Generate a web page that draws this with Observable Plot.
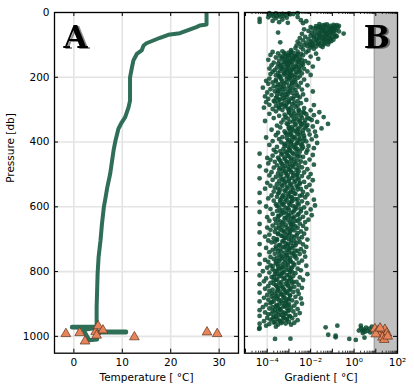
<!DOCTYPE html>
<html>
<head>
<meta charset="utf-8">
<script src="https://cdn.jsdelivr.net/npm/d3@7"></script>
<script src="https://cdn.jsdelivr.net/npm/@observablehq/plot@0.6"></script>
<style>
  body { margin: 0; background: #fff; }
  #wrap { position: relative; width: 414px; height: 391px; overflow: hidden; background:#fff; }
  #wrap svg { position: absolute; top: 0; overflow: visible; }
</style>
</head>
<body>
<div id="wrap"></div>
<script>
// ---------- data ----------
// Temperature profile (°C) vs pressure (db)
const profileT = [27.4, 27.4, 26.0, 25.3, 21.9, 19.5, 17.8, 15.0, 14.4, 14.0, 13.0, 12.3, 12.0, 11.6, 11.6, 11.3, 10.6, 9.9, 9.2, 8.6, 8.2, 7.5, 6.9, 6.5, 6.2, 5.8, 5.5, 5.1, 4.9, 4.8, 4.7, 4.7, 4.8, -0.4, -0.4, 4.6, 2.0, 3.2, 4.8, 4.8, 10.8, 10.8, 4.8];
const profileP = [0, 37, 40, 45, 64, 69, 78, 95, 102, 117, 128, 148, 169, 200, 272, 292, 323, 339, 359, 395, 426, 498, 540, 575, 600, 653, 704, 756, 807, 859, 910, 962, 970, 970, 973, 974, 980, 1012, 1010, 985, 985, 988, 988];

// Station (triangle) values
const stationT = [-1.65, 1.2, 2.3, 4.5, 4.7, 5.0, 6.0, 12.5, 27.5, 29.6];
const stationP = [992, 989, 1015, 986, 997, 968, 981, 1002, 987, 992];
const stationGradExp = [0.96, 1.11, 1.27, 1.42, 1.51, 1.31, 1.39, 1.0, 1.2, 1.55];
const stationGradP = [977, 982, 988, 979, 990, 1003, 1010, 993, 975, 1000];

// Gradient scatter: [pressure (db), log10 gradient]
const gradientPoints = [
[2,-3.9],[3,-3.6],[4,-3.3],[3,-3.0],[5,-2.8],[2,-2.6],[6,-3.75],[7,-3.45],[8,-3.15],[9,-3.85],[10,-3.55],[6,-2.95],[11,-3.25],[12,-3.7],[13,-3.4],[14,-2.6],[15,-3.95],[16,-3.1],[18,-3.6],[20,-4.35],[22,-3.3],[24,-2.45],[26,-3.75],[27,-2.2],[29,-4.35],[30,-3.45],[32,-3.05],[33,-2.35],
[36,-1.6],[37,-1.25],[38,-0.95],[39,-0.8],[40,-1.45],[41,-1.1],[42,-1.75],[43,-0.9],[44,-1.3],[45,-2.0],[46,-1.55],[47,-0.75],[48,-1.15],[49,-1.9],[50,-1.4],[51,-1.0],[52,-2.3],[53,-1.65],[54,-1.2],[55,-0.85],[56,-1.5],[57,-2.1],[58,-1.35],[59,-0.95],[60,-1.8],[61,-1.05],[62,-3.5],[63,-1.6],[64,-1.25],[65,-0.48],[66,-2.4],[67,-1.45],[68,-0.9],[69,-1.7],[70,-1.15],[71,-2.0],[72,-1.35],[73,-0.8],[74,-1.55],[75,-2.25],[76,-1.0],[77,-1.85],[78,-1.3],[79,-2.5],[80,-1.6],[81,-1.1],[82,-2.1],[83,-1.4],[84,-0.95],[85,-1.75],[86,-2.35],[87,-1.25],[88,-1.95],[89,-1.5],[90,-2.6],[91,-1.15],[92,-3.4],[93,-1.8],[94,-2.2],[95,-1.35],[96,-2.5],[97,-1.65],[98,-2.05],[99,-1.4],[100,-2.3],[101,-1.9],[102,-2.65],[103,-1.55],[104,-2.15],[105,-1.75],[107,-2.45],[108,-2.0],[110,-2.7],[112,-1.85],[114,-2.35],[116,-2.9],[118,-2.1],
[38.5,-1.35],[41.5,-0.7],[43.5,-1.6],[46.5,-1.0],[48.5,-1.75],[50.5,-0.9],[53.5,-1.45],[55.5,-1.1],[58.5,-0.7],[60.5,-1.3],[62.5,-1.95],[64.5,-1.05],[67.5,-1.6],[69.5,-1.25],[72.5,-1.85],[74.5,-0.85],[77.5,-1.45],[79.5,-1.15],[82.5,-1.7],[85.5,-1.35],[88.5,-1.05],[91.5,-2.0],[94.5,-1.6],[98.5,-1.2],[102.5,-1.95],[106.5,-1.45],
[120,-3.3],[121,-2.6],[122,-3.75],[123,-2.2],[124,-3.0],[125,-2.8],[126,-3.5],[127,-1.75],[128,-2.45],[129,-3.2],[130,-2.9],[131,-3.85],[132,-2.35],[133,-3.05],[134,-2.65],[135,-3.4],[136,-2.0],[137,-2.75],[138,-3.15],[139,-3.6],[140,-2.5],[141,-2.95],[142,-3.3],[143,-1.65],[144,-2.8],[145,-3.1],[146,-3.95],[147,-2.4],[148,-2.7],[149,-3.45],[150,-2.25],[151,-3.0],[152,-2.55],[153,-3.25],[154,-2.85],[155,-3.7],[156,-2.1],[157,-3.15],[158,-2.6],[159,-3.5],[160,-2.9],[161,-2.35],[162,-3.35],[163,-3.8],[164,-2.7],[165,-3.05],[166,-2.45],[167,-1.9],[168,-3.2],[169,-2.8],[170,-3.55],[171,-2.55],[172,-3.0],[173,-3.9],[174,-2.3],[175,-3.3],[176,-2.75],[177,-3.1],[178,-3.65],[179,-2.5],[180,-2.95],[181,-3.4],[182,-2.15],[183,-3.75],[184,-2.65],[185,-3.2],[186,-2.9],[187,-3.5],[188,-2.4],[189,-3.0],[190,-3.85],[191,-2.7],[192,-3.25],[193,-2.0],[194,-3.6],[195,-2.85],[196,-3.1],[197,-2.5],[198,-3.45],[199,-2.95],
[121.5,-2.9],[124.5,-3.2],[128.5,-2.6],[131.5,-3.0],[135.5,-2.7],[138.5,-3.3],[142.5,-2.85],[146.5,-2.55],[150.5,-3.15],[153.5,-2.95],[157.5,-2.4],[161.5,-3.05],[164.5,-3.4],[168.5,-2.65],[172.5,-3.35],[175.5,-2.85],[179.5,-3.1],[183.5,-2.55],[187.5,-3.2],[191.5,-2.95],[195.5,-3.45],[199.5,-2.75],
[201,-3.4],[202,-2.6],[204,-3.9],[205,-3.1],[207,-2.3],[208,-3.6],[210,-2.9],[211,-4.05],[213,-3.3],[214,-2.7],[216,-3.75],[217,-2.45],[219,-3.2],[220,-3.95],[222,-2.85],[223,-3.5],[225,-2.15],[226,-3.0],[228,-3.7],[229,-2.55],[231,-3.35],[232,-4.2],[234,-2.8],[235,-3.15],[237,-3.85],[238,-2.4],[240,-3.45],[241,-2.95],[243,-3.65],[244,-1.9],[246,-3.25],[247,-4.0],[249,-2.65],[250,-3.55],[252,-3.05],[253,-2.35],[255,-3.8],[256,-3.3],[258,-2.75],[259,-4.1],[261,-3.1],[262,-2.5],[264,-3.6],[265,-2.9],[267,-3.95],[268,-3.4],[270,-2.2],[271,-3.2],[273,-3.7],[274,-2.6],[276,-3.0],[277,-4.05],[279,-3.5],[280,-2.45],[282,-3.3],[283,-2.85],[285,-3.9],[286,-1.85],[288,-3.15],[289,-3.6],[291,-2.7],[292,-3.45],[294,-4.15],[295,-2.3],[297,-3.05],[298,-3.75],[300,-2.55],
[203.5,-3.0],[206.5,-3.35],[209.5,-2.75],[212.5,-3.6],[215.5,-3.1],[218.5,-2.85],[221.5,-3.4],[224.5,-2.65],[227.5,-3.25],[230.5,-3.55],[233.5,-2.95],[236.5,-3.3],[239.5,-2.7],[242.5,-3.5],[245.5,-3.05],[248.5,-2.85],[251.5,-3.4],[254.5,-3.15],[257.5,-2.6],[260.5,-3.55],[263.5,-3.25],[266.5,-2.8],[269.5,-3.45],[272.5,-3.0],[275.5,-3.65],[278.5,-2.75],[281.5,-3.1],[284.5,-3.35],[287.5,-2.6],[290.5,-3.2],[293.5,-2.9],[296.5,-3.45],[299.5,-3.0],
[301,-3.3],[302,-2.0],[304,-2.8],[305,-3.6],[307,-2.35],[308,-1.6],[310,-3.0],[311,-2.55],[313,-3.9],[314,-2.2],[316,-2.9],[317,-1.85],[319,-3.45],[320,-2.65],[322,-3.15],[323,-1.4],[325,-2.4],[326,-3.7],[328,-2.05],[329,-2.75],[331,-3.25],[332,-1.95],[334,-2.5],[335,-4.1],[337,-2.95],[338,-1.7],[340,-3.35],[341,-2.3],[343,-2.7],[344,-1.2],[346,-3.05],[347,-2.15],[349,-3.55],[350,-2.45],[352,-1.9],[353,-2.85],[355,-3.4],[356,-2.25],[358,-1.5],[359,-3.0],[361,-2.6],[362,-3.8],[364,-2.1],[365,-2.75],[367,-3.2],[368,-1.8],[370,-2.5],[371,-3.5],[373,-2.35],[374,-2.9],
[303.5,-2.55],[306.5,-3.0],[309.5,-2.3],[312.5,-2.75],[315.5,-3.2],[318.5,-2.45],[321.5,-2.85],[324.5,-2.15],[327.5,-3.05],[330.5,-2.6],[333.5,-2.25],[336.5,-2.8],[339.5,-2.5],[342.5,-3.1],[345.5,-2.4],[348.5,-2.7],[351.5,-2.2],[354.5,-3.0],[357.5,-2.55],[360.5,-2.85],[363.5,-2.35],[366.5,-2.95],[369.5,-2.65],[372.5,-3.15],
[376,-3.1],[377,-2.05],[379,-3.6],[380,-2.5],[382,-1.75],[383,-2.85],[385,-3.3],[386,-4.05],[388,-2.3],[389,-2.7],[391,-3.45],[392,-1.95],[394,-3.0],[395,-2.55],[397,-3.75],[398,-2.2],[400,-2.9],[401,-3.35],[403,-1.7],[404,-2.65],[406,-3.2],[407,-2.4],[409,-3.9],[410,-2.8],[412,-2.1],[413,-3.05],[415,-3.55],[416,-2.35],[418,-2.75],[419,-1.85],[421,-3.25],[422,-2.6],[424,-3.7],[425,-2.15],[427,-2.95],[428,-3.4],
[375.5,-2.6],[378.5,-2.95],[381.5,-2.3],[384.5,-2.75],[387.5,-3.1],[390.5,-2.5],[393.5,-2.85],[396.5,-2.35],[399.5,-3.05],[402.5,-2.6],[405.5,-2.9],[408.5,-2.45],[411.5,-3.2],[414.5,-2.7],[417.5,-2.95],[420.5,-2.4],[423.5,-3.0],[426.5,-2.65],[429.5,-3.15],
[430,-2.5],[431,-3.6],[433,-2.2],[434,-3.1],[436,-4.35],[437,-2.8],[439,-3.35],[440,-1.9],[442,-3.75],[443,-2.6],[445,-3.0],[446,-2.35],[448,-3.5],[449,-4.0],[451,-2.75],[452,-3.2],[454,-2.05],[455,-3.85],[457,-2.9],[458,-3.4],[460,-2.45],[461,-3.65],[463,-3.1],[464,-2.25],[466,-3.95],[467,-2.7],[469,-3.3],[470,-1.85],[472,-3.55],[473,-2.85],[475,-4.35],[476,-3.05],[478,-2.4],[479,-3.7],[481,-2.6],[482,-3.25],[484,-2.15],[485,-3.45],[487,-2.95],[488,-4.05],[490,-2.55],[491,-3.15],[493,-3.8],[494,-2.3],[496,-2.8],[497,-3.5],[499,-2.0],
[432.5,-2.85],[435.5,-3.3],[438.5,-2.65],[441.5,-3.05],[444.5,-2.5],[447.5,-3.2],[450.5,-2.9],[453.5,-3.45],[456.5,-2.6],[459.5,-3.1],[462.5,-2.75],[465.5,-3.35],[468.5,-2.95],[471.5,-2.55],[474.5,-3.2],[477.5,-2.8],[480.5,-3.4],[483.5,-3.0],[486.5,-2.65],[489.5,-3.3],[492.5,-2.9],[495.5,-3.15],[498.5,-2.6],
[500,-3.35],[502,-2.65],[503,-3.9],[505,-2.4],[506,-3.1],[508,-3.6],[509,-2.1],[511,-2.85],[512,-4.35],[514,-3.25],[515,-2.55],[517,-3.75],[518,-1.9],[520,-3.0],[521,-3.45],[523,-2.3],[524,-2.75],[526,-4.0],[527,-3.2],[529,-2.5],[530,-3.55],[532,-2.05],[533,-2.9],[535,-3.85],[536,-3.3],[538,-2.6],[539,-2.2],[541,-3.65],[542,-3.05],[544,-4.1],[545,-2.45],[547,-3.4],[548,-2.8],[550,-1.95],[551,-3.15],[553,-3.7],[554,-2.35],[556,-2.95],[557,-4.35],[559,-3.5],[560,-2.7],[562,-2.15],[563,-3.25],[565,-3.8],[566,-2.5],[568,-3.0],[569,-3.55],[571,-2.25],[572,-2.85],[574,-3.95],[575,-3.35],[577,-2.6],[578,-1.85],
[501.5,-3.05],[504.5,-2.8],[507.5,-3.4],[510.5,-2.6],[513.5,-3.0],[516.5,-3.3],[519.5,-2.7],[522.5,-3.15],[525.5,-2.5],[528.5,-2.95],[531.5,-3.35],[534.5,-2.65],[537.5,-3.1],[540.5,-2.85],[543.5,-3.5],[546.5,-2.6],[549.5,-3.2],[552.5,-2.9],[555.5,-3.45],[558.5,-2.75],[561.5,-3.05],[564.5,-2.4],[567.5,-3.3],[570.5,-2.9],[573.5,-3.15],[576.5,-2.7],[579.5,-3.4],
[580,-3.1],[581,-3.7],[583,-2.4],[584,-2.9],[586,-4.35],[587,-3.4],[589,-2.15],[590,-3.0],[592,-3.6],[593,-2.55],[595,-3.25],[596,-1.8],[598,-2.8],[599,-4.05],[601,-3.45],[602,-2.3],[604,-3.05],[605,-2.65],[607,-3.85],[608,-2.0],[610,-3.3],[611,-2.75],[613,-3.55],[614,-2.45],[616,-4.35],[617,-3.15],[619,-2.2],[620,-2.9],[622,-3.75],[623,-3.35],[625,-2.6],[626,-1.95],[628,-3.0],[629,-3.5],[631,-2.35],[632,-4.0],[634,-2.8],[635,-3.2],[637,-2.5],[638,-3.65],[640,-2.1],[641,-3.05],[643,-3.9],[644,-2.7],[646,-3.4],[647,-2.25],[649,-2.95],
[582.5,-2.85],[585.5,-3.2],[588.5,-2.6],[591.5,-3.3],[594.5,-2.95],[597.5,-3.55],[600.5,-2.7],[603.5,-3.15],[606.5,-2.45],[609.5,-3.0],[612.5,-3.4],[615.5,-2.8],[618.5,-3.25],[621.5,-2.55],[624.5,-3.05],[627.5,-3.45],[630.5,-2.75],[633.5,-3.15],[636.5,-2.9],[639.5,-3.5],[642.5,-2.6],[645.5,-3.25],[648.5,-2.85],
[650,-3.6],[652,-2.5],[653,-4.35],[655,-3.15],[656,-2.8],[658,-3.75],[659,-2.35],[661,-3.3],[662,-2.9],[664,-4.0],[665,-2.6],[667,-3.45],[668,-2.2],[670,-3.05],[671,-3.85],[673,-2.75],[674,-3.25],[676,-2.45],[677,-3.65],[679,-4.35],[680,-2.95],[682,-3.5],[683,-2.3],[685,-3.1],[686,-3.9],[688,-2.65],[689,-3.35],[691,-2.85],[692,-4.1],[694,-2.4],[695,-3.2],[697,-3.7],[698,-2.55],[700,-3.0],[701,-2.15],[703,-3.55],[704,-3.95],[706,-2.75],[707,-3.3],[709,-2.5],[710,-3.8],[712,-2.9],[713,-3.15],[715,-4.35],[716,-2.35],[718,-3.45],[719,-2.7],[721,-3.05],[722,-3.6],[724,-2.2],[725,-3.25],[727,-4.05],[728,-2.85],[730,-3.4],[731,-2.45],[733,-3.75],[734,-3.0],[736,-2.6],[737,-3.5],[739,-2.3],[740,-3.9],[742,-3.2],[743,-2.8],[745,-3.65],[746,-2.5],[748,-4.35],[749,-3.1],[751,-2.7],[752,-3.35],[754,-2.25],[755,-3.85],[757,-2.95],[758,-3.55],
[651.5,-3.3],[654.5,-2.9],[657.5,-3.45],[660.5,-2.7],[663.5,-3.1],[666.5,-3.6],[669.5,-2.85],[672.5,-3.35],[675.5,-2.95],[678.5,-3.2],[681.5,-2.6],[684.5,-3.5],[687.5,-3.0],[690.5,-3.3],[693.5,-2.75],[696.5,-3.15],[699.5,-3.55],[702.5,-2.9],[705.5,-3.25],[708.5,-3.65],[711.5,-2.65],[714.5,-3.05],[717.5,-3.4],[720.5,-2.8],[723.5,-3.2],[726.5,-2.95],[729.5,-3.6],[732.5,-3.1],[735.5,-2.7],[738.5,-3.35],[741.5,-3.0],[744.5,-2.85],[747.5,-3.45],[750.5,-3.15],[753.5,-2.75],[756.5,-3.3],[759.5,-3.05],
[760,-2.65],[761,-3.7],[763,-3.2],[764,-4.1],[766,-2.4],[767,-3.45],[769,-2.9],[770,-3.95],[772,-3.05],[773,-2.55],[775,-3.6],[776,-4.35],[778,-3.3],[779,-2.75],[781,-3.85],[782,-2.2],[784,-3.15],[785,-3.5],[787,-2.85],[788,-4.0],[790,-3.35],[791,-2.6],[793,-3.75],[794,-3.0],[796,-2.45],[797,-3.55],[799,-4.2],[800,-2.95],[802,-3.25],[803,-3.9],[805,-2.7],[806,-3.4],[808,-2.15],[809,-3.65],[811,-3.1],[812,-4.35],[814,-2.8],[815,-3.45],[817,-3.8],[818,-2.5],[820,-3.2],[821,-4.05],[823,-2.9],[824,-3.55],[826,-2.35],[827,-3.7],[829,-3.0],[830,-4.15],[832,-2.65],[833,-3.35],[835,-3.85],[836,-2.85],[838,-3.15],[839,-4.35],[841,-2.55],[842,-3.6],[844,-3.05],[845,-3.95],[847,-2.75],[848,-3.3],[850,-2.4],[851,-3.5],[853,-4.1],[854,-2.95],[856,-3.75],[857,-3.2],[859,-2.6],
[762.5,-3.4],[765.5,-2.95],[768.5,-3.6],[771.5,-3.2],[774.5,-2.8],[777.5,-3.5],[780.5,-3.05],[783.5,-3.75],[786.5,-3.3],[789.5,-2.9],[792.5,-3.45],[795.5,-3.15],[798.5,-3.65],[801.5,-2.85],[804.5,-3.3],[807.5,-3.55],[810.5,-3.0],[813.5,-3.35],[816.5,-3.7],[819.5,-2.95],[822.5,-3.25],[825.5,-3.6],[828.5,-3.1],[831.5,-2.8],[834.5,-3.45],[837.5,-3.7],[840.5,-3.05],[843.5,-3.35],[846.5,-3.55],[849.5,-2.9],[852.5,-3.25],[855.5,-3.5],[858.5,-3.0],
[860,-3.9],[862,-3.4],[863,-2.8],[865,-4.35],[866,-3.1],[868,-3.65],[869,-2.55],[871,-3.3],[872,-4.0],[874,-2.95],[875,-3.5],[877,-3.8],[878,-2.7],[880,-3.2],[881,-4.15],[883,-2.45],[884,-3.55],[886,-3.0],[887,-3.95],[889,-2.85],[890,-3.35],[892,-4.35],[893,-3.7],[895,-2.65],[896,-3.15],[898,-3.85],[899,-2.4],[901,-3.45],[902,-4.05],[904,-3.05],[905,-2.75],[907,-3.6],[908,-3.25],[910,-4.2],[911,-2.9],[913,-3.5],[914,-3.9],[916,-2.6],[917,-3.4],[919,-4.35],[920,-3.0],[922,-3.75],[923,-2.8],[925,-3.3],[926,-4.1],[928,-2.5],[929,-3.6],[931,-3.15],[932,-3.95],[934,-2.7],[935,-3.45],[937,-4.35],[938,-2.95],[940,-3.7],[941,-3.25],[943,-4.0],[944,-2.85],[946,-3.55],[947,-3.1],[949,-3.85],[950,-2.6],[952,-3.4],[953,-4.15],[955,-3.0],[956,-3.65],[958,-2.75],[959,-3.35],[961,-4.35],[962,-3.9],[964,-2.9],
[861.5,-3.55],[864.5,-3.15],[867.5,-3.8],[870.5,-3.35],[873.5,-2.95],[876.5,-3.6],[879.5,-3.25],[882.5,-3.7],[885.5,-3.05],[888.5,-3.45],[891.5,-3.15],[894.5,-3.8],[897.5,-3.3],[900.5,-3.0],[903.5,-3.55],[906.5,-3.2],[909.5,-3.75],[912.5,-3.1],[915.5,-3.4],[918.5,-3.65],[921.5,-3.05],[924.5,-3.5],[927.5,-3.2],[930.5,-3.8],[933.5,-3.35],[936.5,-3.0],[939.5,-3.6],[942.5,-3.25],[945.5,-3.75],[948.5,-3.1],[951.5,-3.45],[954.5,-3.3],[957.5,-3.7],[960.5,-3.15],[963.5,-3.5],
[967,-4.05],[970,-3.6],[974,-4.35],[977,-4.37],[972,-1.31],[967,-0.77],[995,-1.19],[1003,-0.85],[998,-0.85],[1008,-3.64],[1007,-2.93],[1008,-0.22],[1011,0.08],[982,0.22],[967,0.31],[982,0.38],[979,0.45],[973,0.55],[986,0.5],[976,0.7],[970,0.82],[983,0.62],[990,0.4],[975,0.32],[988,0.75],[1004,0.48]
];

// Axis ticks
const tempTicks = [0, 10, 20, 30];
const pressureTicks = [0, 200, 400, 600, 800, 1000];
const gradTicks = [1e-4, 1e-2, 1, 100];
const gradTickLabels = ["10\u207B\u2074", "10\u207B\u00B2", "10\u2070", "10\u00B2"];
const shadeRange = [8.5, 100];

// ---------- build ----------
const profile = profileT.map((t, i) => ({t, p: profileP[i]}));
const stationsA = stationT.map((t, i) => ({t, p: stationP[i]}));
const stationsB = stationGradExp.map((e, i) => ({g: Math.pow(10, e), p: stationGradP[i]}));
const grads = gradientPoints.map(([p, e]) => ({p, g: Math.pow(10, e)}));

const H = 391, MT = 12, MB = 38.3;
const innerH = H - MT - MB;
const lineColor = "#2f6f58";
const dotColor = "#0a4a30";
const orange = "#e8845a";
const orangeEdge = "#5a3320";
const gridColor = "#e4e4e4";
const font = "DejaVu Sans";

function letter(txt, anchor, dx) {
  return Plot.text([txt], {frameAnchor: anchor, dx, dy: 25.6, lineAnchor: "middle", textAnchor: anchor === "top-left" ? "start" : "end",
    fontSize: 31, fontWeight: "bold", fontFamily: "DejaVu Serif", fill: "#000"});
}
function shadow(svg, txt) {
  d3.select(svg).selectAll("text").filter(function () { return this.textContent === txt; })
    .style("filter", "drop-shadow(2px 1.5px 0.6px rgba(0,0,0,0.45))");
}

const WA = 240;
const innerWA = WA - 54 - 2;
const chartA = Plot.plot({
  width: WA, height: H,
  marginLeft: 54, marginRight: 2, marginTop: MT, marginBottom: MB,
  style: {fontFamily: font, fontSize: "10.5px", color: "#000", background: "transparent", overflow: "visible"},
  x: {domain: [-4, 34]},
  y: {domain: [0, 1052], reverse: true},
  marks: [
    Plot.gridX(tempTicks, {stroke: gridColor, strokeOpacity: 1, strokeWidth: 1.6}),
    Plot.gridY(pressureTicks, {stroke: gridColor, strokeOpacity: 1, strokeWidth: 1.6}),
    Plot.line(profile, {x: "t", y: "p", stroke: lineColor, strokeWidth: 4, strokeLinejoin: "round", strokeLinecap: "butt"}),
    Plot.dot(stationsA, {x: "t", y: "p", symbol: "triangle", r: 3.6, fill: orange, stroke: orangeEdge, strokeWidth: 0.7}),
    Plot.tickX(tempTicks, {x: d => d, insetTop: innerH - 4, stroke: "#000", strokeWidth: 1}),
    Plot.tickX(tempTicks, {x: d => d, insetBottom: innerH - 4, stroke: "#000", strokeWidth: 1}),
    Plot.tickY(pressureTicks, {y: d => d, insetRight: innerWA - 4, stroke: "#000", strokeWidth: 1}),
    Plot.tickY(pressureTicks, {y: d => d, insetLeft: innerWA - 4, stroke: "#000", strokeWidth: 1}),
    Plot.axisX(tempTicks, {tickSize: 0, tickPadding: 5, label: null, fontSize: 10.5, tickFormat: d => String(d)}),
    Plot.axisY(pressureTicks, {tickSize: 0, tickPadding: 5, label: null, fontSize: 10.5, tickFormat: d => String(d)}),
    Plot.frame({stroke: "#000", strokeWidth: 1.3}),
    Plot.text(["Temperature [ \u00B0C]"], {frameAnchor: "bottom", dy: 24.5, lineAnchor: "middle", fontSize: 10.5}),
    Plot.text(["Pressure [db]"], {frameAnchor: "left", dx: -44, rotate: -90, lineAnchor: "middle", fontSize: 10.5}),
    letter("A", "top-left", 9)
  ]
});
chartA.style.left = "0px";
shadow(chartA, "A");

const WB = 174;
const innerWB = WB - 4 - 17;
const allLog = d3.scaleLog().domain([1e-5, 100]).ticks();
const decades = allLog.filter(v => Math.abs(Math.log10(v) - Math.round(Math.log10(v))) < 1e-9);
const minors = allLog.filter(v => !decades.includes(v));

const chartB = Plot.plot({
  width: WB, height: H,
  marginLeft: 4, marginRight: 17, marginTop: MT, marginBottom: MB,
  style: {fontFamily: font, fontSize: "10.5px", color: "#000", background: "transparent", overflow: "visible"},
  x: {type: "log", domain: [9e-6, 100]},
  y: {domain: [0, 1052], reverse: true, axis: null},
  marks: [
    Plot.gridX(gradTicks, {stroke: gridColor, strokeOpacity: 1, strokeWidth: 1.6}),
    Plot.gridY(pressureTicks, {stroke: gridColor, strokeOpacity: 1, strokeWidth: 1.6}),
    Plot.rect([shadeRange], {x1: d => d[0], x2: d => d[1], fill: "#c0c0c0"}),
    Plot.ruleX([shadeRange[0]], {stroke: "#9a9a9a", strokeWidth: 1}),
    Plot.dot(grads, {x: "g", y: "p", r: 2.4, fill: dotColor, fillOpacity: 0.85, stroke: "none"}),
    Plot.dot(stationsB, {x: "g", y: "p", symbol: "triangle", r: 3.6, fill: orange, stroke: orangeEdge, strokeWidth: 0.7}),
    Plot.tickX(decades, {x: d => d, insetTop: innerH - 4, stroke: "#000", strokeWidth: 1}),
    Plot.tickX(decades, {x: d => d, insetBottom: innerH - 4, stroke: "#000", strokeWidth: 1}),
    Plot.tickX(minors, {x: d => d, insetTop: innerH - 2, stroke: "#000", strokeWidth: 0.8}),
    Plot.tickX(minors, {x: d => d, insetBottom: innerH - 2, stroke: "#000", strokeWidth: 0.8}),
    Plot.tickY(pressureTicks, {y: d => d, insetRight: innerWB - 4, stroke: "#000", strokeWidth: 1}),
    Plot.tickY(pressureTicks, {y: d => d, insetLeft: innerWB - 4, stroke: "#000", strokeWidth: 1}),
    Plot.axisX(gradTicks, {tickSize: 0, tickPadding: 5, label: null, fontSize: 10.5, tickFormat: d => gradTickLabels[gradTicks.indexOf(d)]}),
    Plot.frame({stroke: "#000", strokeWidth: 1.3}),
    Plot.text(["Gradient [ \u00B0C]"], {frameAnchor: "bottom", dy: 24.5, lineAnchor: "middle", fontSize: 10.5}),
    letter("B", "top-right", -7.5)
  ]
});
chartB.style.left = "240px";
shadow(chartB, "B");

const wrap = document.getElementById("wrap");
wrap.appendChild(chartA);
wrap.appendChild(chartB);
</script>
</body>
</html>
